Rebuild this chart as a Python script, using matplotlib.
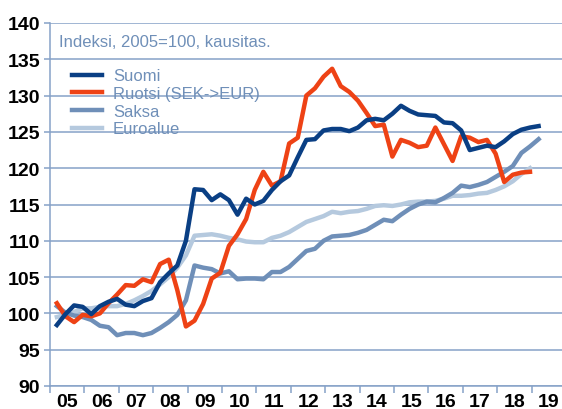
import matplotlib.pyplot as plt
import numpy as np

plt.rcParams['font.family'] = ['Liberation Sans', 'DejaVu Sans']

# quarterly observations, first point 2005 Q1
start = 2005.2

suomi = [98.4, 99.9, 101.1, 100.9, 99.9, 101.0, 101.6, 102.0,
         101.2, 101.0, 101.7, 102.1, 104.3, 105.5, 106.6, 110.0,
         117.1, 117.0, 115.6, 116.4, 115.6, 113.6, 115.8, 115.0,
         115.5, 117.0, 118.2, 119.0, 121.5, 123.9, 124.0, 125.2,
         125.4, 125.4, 125.1, 125.6, 126.6, 126.8, 126.6, 127.5,
         128.6, 127.9, 127.4, 127.3, 127.2, 126.3, 126.2, 125.2,
         122.5, 122.8, 123.1, 122.9, 123.7, 124.7, 125.3, 125.6, 125.8]

ruotsi = [101.4, 99.6, 98.8, 99.8, 99.6, 100.0, 101.4, 102.6,
          103.9, 103.8, 104.7, 104.3, 106.8, 107.4, 103.2, 98.2,
          99.0, 101.3, 104.8, 105.6, 109.3, 110.9, 113.0, 117.0,
          119.5, 117.6, 118.2, 123.4, 124.2, 130.0, 131.0, 132.6,
          133.7, 131.3, 130.5, 129.3, 127.6, 125.8, 126.0, 121.6,
          123.9, 123.5, 122.9, 123.1, 125.6, 123.3, 121.0, 124.4,
          124.2, 123.6, 123.9, 122.0, 118.1, 119.1, 119.4, 119.5]

saksa = [101.0, 100.1, 99.7, 99.5, 99.1, 98.3, 98.1, 97.0,
         97.3, 97.3, 97.0, 97.3, 98.0, 98.8, 99.8, 101.8,
         106.6, 106.3, 106.1, 105.5, 105.8, 104.7, 104.8, 104.8,
         104.7, 105.7, 105.7, 106.4, 107.5, 108.6, 108.9, 110.0,
         110.6, 110.7, 110.8, 111.1, 111.5, 112.2, 112.9, 112.7,
         113.6, 114.4, 115.0, 115.4, 115.3, 115.9, 116.6, 117.6,
         117.4, 117.7, 118.1, 118.8, 119.5, 120.3, 122.1, 123.0, 124.0]

euroalue = [99.5, 99.8, 100.2, 100.7, 100.7, 100.9, 101.0, 101.0,
            101.3, 101.8, 102.4, 103.1, 104.0, 105.0, 106.3, 108.0,
            110.7, 110.8, 110.9, 110.7, 110.4, 110.2, 109.9, 109.8,
            109.8, 110.4, 110.7, 111.2, 111.9, 112.6, 113.0, 113.4,
            114.0, 113.8, 114.0, 114.1, 114.4, 114.8, 114.9, 114.8,
            115.0, 115.3, 115.4, 115.4, 115.5, 115.8, 116.2, 116.2,
            116.3, 116.5, 116.6, 117.0, 117.5, 118.2, 119.2, 120.0]

years = list(range(2005, 2020))
year_labels = [f'{y % 100:02d}' for y in years]

grid_col = '#86a2c8'
text_col = '#6f8fb8'

fig = plt.figure(figsize=(5.62, 4.10), dpi=100)
ax = fig.add_axes([50 / 562, 1 - 387 / 410, 1 - 50 / 562, 363 / 410])

def qx(vals):
    return start + 0.25 * np.arange(len(vals))

ax.plot(qx(euroalue), euroalue, color='#b5c9de', lw=3.2, label='Euroalue', zorder=2)
ax.plot(qx(saksa), saksa, color='#6f8fb8', lw=3.2, label='Saksa', zorder=3)
ax.plot(qx(ruotsi), ruotsi, color='#ee4215', lw=3.2, label='Ruotsi (SEK->EUR)', zorder=4)
ax.plot(qx(suomi), suomi, color='#0a3f84', lw=3.2, label='Suomi', zorder=5)

ax.set_xlim(2005, 2019.88)
ax.set_ylim(90, 140)
ax.set_yticks(range(90, 141, 5))
ax.yaxis.grid(True, color=grid_col, lw=1.1)
ax.set_axisbelow(True)

ax.set_xticks([y + 0.5 for y in years])
ax.set_xticklabels(year_labels)
ax.set_xticks(years, minor=True)
ax.tick_params(axis='x', which='major', length=0, pad=5)
ax.tick_params(axis='x', which='minor', length=5, color=grid_col, width=1.1)
ax.tick_params(axis='y', length=4, color=grid_col, width=1.1, pad=3)
for lab in ax.get_xticklabels() + ax.get_yticklabels():
    lab.set_fontsize(14)
    lab.set_fontweight('bold')

for side in ['top', 'right']:
    ax.spines[side].set_visible(False)
for side in ['left', 'bottom']:
    ax.spines[side].set_color(grid_col)
    ax.spines[side].set_linewidth(1.1)

ax.text(0.017, 0.95, 'Indeksi, 2005=100, kausitas.', transform=ax.transAxes,
        fontsize=12, color=text_col, va='center', ha='left')

handles, labels = ax.get_legend_handles_labels()
order = [3, 2, 1, 0]
leg = ax.legend([handles[i] for i in order], [labels[i] for i in order],
                loc='upper left', bbox_to_anchor=(0.043, 0.875), frameon=False,
                fontsize=12, handlelength=1.8, handletextpad=0.65,
                labelspacing=0.16, borderaxespad=0, borderpad=0)
for t in leg.get_texts():
    t.set_color(text_col)

fig.savefig('out.png', dpi=100)
